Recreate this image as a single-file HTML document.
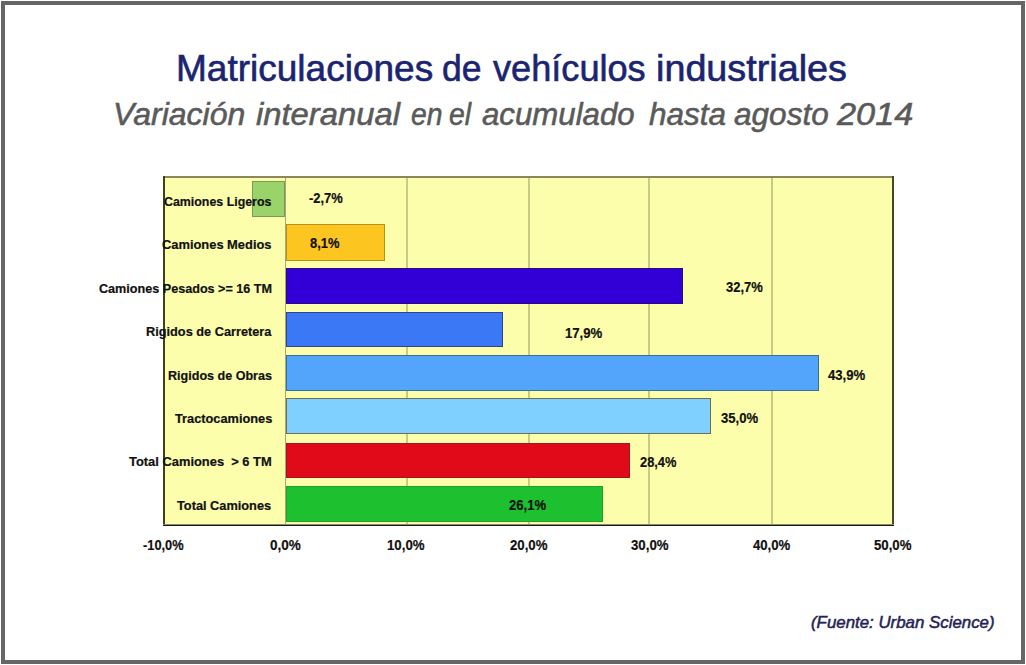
<!DOCTYPE html>
<html><head><meta charset="utf-8">
<style>
html,body{margin:0;padding:0;background:#fff;}
body{width:1026px;height:665px;position:relative;overflow:hidden;font-family:"Liberation Sans",sans-serif;}
.frame{position:absolute;left:1px;top:1px;width:1024px;height:663px;box-sizing:border-box;border:4px solid #666;}
.t{position:absolute;white-space:pre;line-height:1;transform-origin:0 0;}
.plot{position:absolute;left:163px;top:176px;width:731px;height:350px;background:#FCFEAC;}
.bl{position:absolute;}
.grid{position:absolute;top:178px;height:346px;width:2px;background:#C9CA84;}
.bar{position:absolute;height:35px;box-sizing:border-box;border:1px solid;}
.cl,.dl,.ax{position:absolute;font-weight:bold;color:#111;-webkit-text-stroke:0.2px #111;white-space:pre;line-height:1;transform-origin:0 0;}
</style></head><body>
<div class="frame"></div>
<div class="t" id="tw0" style="left:176.29px;top:50.50px;font-size:36.5px;font-style:normal;color:#1B2470;-webkit-text-stroke:0.6px #1B2470;transform:scaleX(1.0142)">Matriculaciones</div>
<div class="t" id="tw1" style="left:442.30px;top:50.50px;font-size:36.5px;font-style:normal;color:#1B2470;-webkit-text-stroke:0.6px #1B2470;transform:scaleX(0.9726)">de</div>
<div class="t" id="tw2" style="left:492.65px;top:50.50px;font-size:36.5px;font-style:normal;color:#1B2470;-webkit-text-stroke:0.6px #1B2470;transform:scaleX(0.9902)">vehículos</div>
<div class="t" id="tw3" style="left:656.16px;top:50.50px;font-size:36.5px;font-style:normal;color:#1B2470;-webkit-text-stroke:0.6px #1B2470;transform:scaleX(1.0341)">industriales</div>
<div class="t" id="sw0" style="left:113.49px;top:98.90px;font-size:31.5px;font-style:italic;color:#5A5A5A;-webkit-text-stroke:0.55px #5A5A5A;transform:scaleX(1.0166)">Variación</div>
<div class="t" id="sw1" style="left:255.72px;top:98.90px;font-size:31.5px;font-style:italic;color:#5A5A5A;-webkit-text-stroke:0.55px #5A5A5A;transform:scaleX(1.0406)">interanual</div>
<div class="t" id="sw2" style="left:410.53px;top:98.90px;font-size:31.5px;font-style:italic;color:#5A5A5A;-webkit-text-stroke:0.55px #5A5A5A;transform:scaleX(0.9000)">en</div>
<div class="t" id="sw3" style="left:449.24px;top:98.90px;font-size:31.5px;font-style:italic;color:#5A5A5A;-webkit-text-stroke:0.55px #5A5A5A;transform:scaleX(0.9000)">el</div>
<div class="t" id="sw4" style="left:482.33px;top:98.90px;font-size:31.5px;font-style:italic;color:#5A5A5A;-webkit-text-stroke:0.55px #5A5A5A;transform:scaleX(0.9905)">acumulado</div>
<div class="t" id="sw5" style="left:649.07px;top:98.90px;font-size:31.5px;font-style:italic;color:#5A5A5A;-webkit-text-stroke:0.55px #5A5A5A;transform:scaleX(0.9994)">hasta</div>
<div class="t" id="sw6" style="left:734.27px;top:98.90px;font-size:31.5px;font-style:italic;color:#5A5A5A;-webkit-text-stroke:0.55px #5A5A5A;transform:scaleX(1.0021)">agosto</div>
<div class="t" id="sw7" style="left:836.66px;top:98.90px;font-size:31.5px;font-style:italic;color:#5A5A5A;-webkit-text-stroke:0.55px #5A5A5A;transform:scaleX(1.0901)">2014</div>
<div class="t" id="foot" style="left:810.61px;top:614.00px;font-size:17px;font-style:italic;color:#1F2355;-webkit-text-stroke:0.5px #1F2355;transform:scaleX(0.9913)">(Fuente: Urban Science)</div>
<div class="plot"></div>
<div class="grid" style="left:406px"></div>
<div class="grid" style="left:528px"></div>
<div class="grid" style="left:648px"></div>
<div class="grid" style="left:771px"></div>
<div class="grid" style="left:285px;width:1px;background:#A8A870"></div>
<div class="bl" style="left:163px;top:176px;width:731px;height:2px;background:#88885C"></div>
<div class="bl" style="left:163px;top:176px;width:2px;height:350px;background:#3F4020"></div>
<div class="bl" style="left:892px;top:176px;width:2px;height:350px;background:#46462C"></div>
<div class="bl" style="left:163px;top:524px;width:731px;height:1px;background:#8A8A70"></div>
<div class="bl" style="left:163px;top:525px;width:731px;height:1px;background:#1A1A14"></div>
<div class="bar" style="left:252px;top:181px;width:33px;height:36px;background:#99D36A;border-color:#7A9A5A"></div>
<div class="bar" style="left:286px;top:224px;width:99px;height:37px;background:#FCC520;border-color:#B8901E"></div>
<div class="bar" style="left:286px;top:268px;width:397px;height:36px;background:#3200D6;border-color:#2A0A80"></div>
<div class="bar" style="left:286px;top:312px;width:217px;height:35px;background:#3A78F5;border-color:#2C4490"></div>
<div class="bar" style="left:286px;top:355px;width:533px;height:36px;background:#52A5FA;border-color:#36709A"></div>
<div class="bar" style="left:286px;top:398px;width:425px;height:36px;background:#80D0FF;border-color:#6E6E58"></div>
<div class="bar" style="left:286px;top:443px;width:344px;height:35px;background:#E00A18;border-color:#A01828"></div>
<div class="bar" style="left:286px;top:486px;width:317px;height:36px;background:#1DC02E;border-color:#20A030"></div>
<div class="cl" id="c0" style="left:163.74px;top:194.84px;font-size:13.2px;transform:scaleX(0.9391)">Camiones Ligeros</div>
<div class="cl" id="c1" style="left:162.46px;top:238.27px;font-size:13.2px;transform:scaleX(0.9765)">Camiones Medios</div>
<div class="cl" id="c2" style="left:98.71px;top:281.70px;font-size:13.2px;transform:scaleX(0.9558)">Camiones Pesados &gt;= 16 TM</div>
<div class="cl" id="c3" style="left:145.52px;top:325.13px;font-size:13.2px;transform:scaleX(0.9663)">Rigidos de Carretera</div>
<div class="cl" id="c4" style="left:167.91px;top:368.56px;font-size:13.2px;transform:scaleX(0.9521)">Rigidos de Obras</div>
<div class="cl" id="c5" style="left:174.59px;top:411.99px;font-size:13.2px;transform:scaleX(0.9694)">Tractocamiones</div>
<div class="cl" id="c6" style="left:128.59px;top:455.42px;font-size:13.2px;transform:scaleX(0.9780)">Total Camiones  &gt; 6 TM</div>
<div class="cl" id="c7" style="left:176.81px;top:498.85px;font-size:13.2px;transform:scaleX(0.9679)">Total Camiones</div>
<div class="dl" id="d0" style="left:309.31px;top:190.50px;font-size:14.0px;transform:scaleX(0.9210)">-2,7%</div>
<div class="dl" id="d1" style="left:310.14px;top:236.40px;font-size:14.0px;transform:scaleX(0.9209)">8,1%</div>
<div class="dl" id="d2" style="left:725.72px;top:280.40px;font-size:14.0px;transform:scaleX(0.9275)">32,7%</div>
<div class="dl" id="d3" style="left:564.89px;top:326.05px;font-size:14.0px;transform:scaleX(0.9390)">17,9%</div>
<div class="dl" id="d4" style="left:828.17px;top:368.05px;font-size:14.0px;transform:scaleX(0.9389)">43,9%</div>
<div class="dl" id="d5" style="left:720.90px;top:411.25px;font-size:14.0px;transform:scaleX(0.9346)">35,0%</div>
<div class="dl" id="d6" style="left:639.90px;top:454.75px;font-size:14.0px;transform:scaleX(0.9184)">28,4%</div>
<div class="dl" id="d7" style="left:508.72px;top:498.25px;font-size:14.0px;transform:scaleX(0.9322)">26,1%</div>
<div class="ax" id="a0" style="left:142.91px;top:538.00px;font-size:14.0px;transform:scaleX(0.9162)">-10,0%</div>
<div class="ax" id="a1" style="left:270.14px;top:538.00px;font-size:14.0px;transform:scaleX(0.9626)">0,0%</div>
<div class="ax" id="a2" style="left:387.49px;top:538.00px;font-size:14.0px;transform:scaleX(0.9451)">10,0%</div>
<div class="ax" id="a3" style="left:509.55px;top:538.00px;font-size:14.0px;transform:scaleX(0.9436)">20,0%</div>
<div class="ax" id="a4" style="left:630.86px;top:538.00px;font-size:14.0px;transform:scaleX(0.9443)">30,0%</div>
<div class="ax" id="a5" style="left:752.83px;top:538.00px;font-size:14.0px;transform:scaleX(0.9389)">40,0%</div>
<div class="ax" id="a6" style="left:873.55px;top:538.00px;font-size:14.0px;transform:scaleX(0.9436)">50,0%</div>
</body></html>
